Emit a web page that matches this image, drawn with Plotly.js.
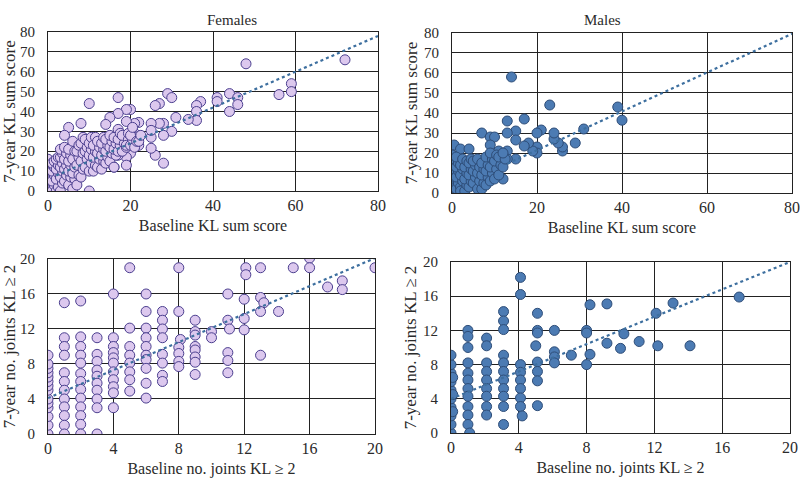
<!DOCTYPE html>
<html>
<head>
<meta charset="utf-8">
<script src="https://cdn.plot.ly/plotly-3.0.1.min.js"></script>
<style>html,body{margin:0;padding:0;background:#fff}#chart{width:800px;height:478px}</style>
</head>
<body>
<div id="chart"></div>
<script>
// ---- Females: KL sum score ----
const femSumX = [48,72,59,59,56,44,46,46,44,41,41,37,36,36,36,34,31,29,30,27,26,28,27,30,28,28,26,25,25,25,25,17,20,19,17,15,14,10,8,5,4,22,21,19,21,22,22,20,20,19,19,16,10,17,17,
 0,0,0,0,0,0,0,0,0,0,0,0,0,
 1,1.5,1,1.5,1,1.5,1,1.5,
 2,2.5,2,2.5,2,2.5,2,2.5,
 3,3.5,3,3.5,3,3.5,3,3.5,3,
 4,4.5,4,4.5,4,4.5,4,
 5,5.5,5,5.5,5,5.5,5,
 6,6.5,6,6.5,6,6.5,6,
 7,7.5,7,7.5,7,7.5,
 8,8.5,8,8.5,8,8.5,
 9,9.5,9,9.5,9,
 10,10.5,10,10.5,10,10.5,
 11,11.5,11,11.5,11,11.5,
 12,12.5,12,12.5,12,
 13,13.5,13,13.5,13,13.5,
 14,14.5,14,14.5,14,
 15,15.5,15,15.5,15,
 16,16.5,16,16.5,16,
 17,17.5,17,17.5,
 18,18.5,18,
 19,19.5,19,19.5,
 20,20.5,20,20.5,
 21,21.5,
 22,22.5];
const femSumY = [64,66,54,50,48.5,49,47,43.5,40,47,45,45,43,40,35.5,36,37,49,47,44,43,34,34,30,28,14,18,21.5,27,34,30.5,47,41,41,39,37,33.5,44,34,32,28,34.5,34,35,29,27.5,23,21.5,19,17,13,12,0,31,18,
 0,2,3,5,7,8,10,11,12,13,14,15,16,
 0,3,5,8,10,12,14,15,
 0,2,6,9,11,13,16,17,
 0,4,7,10,12,14,17,19,21,
 5,8,11,13,16,19,22,
 3,7,10,13,15,18,21,
 1,6,9,12,16,20,25,
 3,8,13,17,20,23,
 7,11,15,19,24,27,
 12,16,20,22,26,
 10,14,18,21,24,27,
 10,13,17,20,23,27,
 12,16,19,22,25,
 11,15,18,21,24,27,
 14,17,20,23,26,
 15,19,22,25,28,
 12,18,21,24,27,
 20,23,26,29,
 20,24,28,
 22,26,23,29,
 23,26,28,32,
 22,25,
 25,28];

// ---- Males: KL sum score ----
const malSumX = [14,23,39,40,31,29,26,26,25,24,24,21,20,20,20,19,18,17,17,15,15,15,13,13,13,13,7,9,10,9,0.5,2,4,0,12,11,6.5,2,
 0,0,0,0,0,0,0,0,0,0,0,0,
 1,1.5,1,1.5,1,1.5,1,
 2,2.5,2,2.5,2,2.5,2,
 3,3.5,3,3.5,3,3.5,
 4,4.5,4,4.5,4,4.5,
 5,5.5,5,5.5,5,
 6,6.5,6,6.5,6,
 7,7.5,7,7.5,7,
 8,8.5,8,8.5,8,
 9,9.5,9,9.5,9,
 10,10.5,10,10.5,
 11,11.5,11,
 12,12.5,12];
const malSumY = [58,44,43,36.4,32,25,21,23,25,27,30,31.5,30,23,20,21,25,37,23.5,31,26.5,17,36,30,21,17,30,28,28,24,24,22,22,19,7,21,2,0,
 0,1,3,5,7,8,10,12,14,16,17,19,
 2,5,8,11,13,15,18,
 3,6,9,12,14,17,1,
 1,4,7,10,13,16,
 3,6,9,12,15,17,
 5,8,11,14,16,
 2,6,10,13,17,
 2,5,9,12,15,
 4,8,11,14,18,
 6,10,13,17,20,
 7,12,16,19,
 9,14,18,
 13,17,20];

// ---- Females: number of joints KL >= 2 ----
const femJntX = [20,16,16,15,17.1,18,18,14.1,13,13.2,13,13,12.1,12.1,12,12,12,13,11,11,11.1,11,11,11,10,10,9,9,9,9,9,9,9,9,
 8,8,8.1,8,8,8,8,7,7,7,7,7,7,7,7,
 6,6,6,6,6,6,6,6,6,6,
 5,5,5,5,5,5,5,5,
 4,4,4,4,4,4,4,4,4,4,4,
 3,3,3,3,3,3,3,3,3,3,
 2,2,2,2,2,2,2,2,2,2,2,2,2,
 1,1,1,1,1,1,1,1,1,1,1,1,
 0,0,0,0,0,0,0,0,0,0,0,0,0,0];
const femJntY = [19,20.1,19,19,16.8,17.5,16.5,14,15.6,15,14,9,19,18.2,15.4,13.2,11.9,19,16,13,12,9.3,8.4,7,11.7,11,13,11.7,11.3,10,9.6,8.8,8.2,6.8,
 19,14,10.8,9.9,9.2,8.3,7.7,14,13,12,11,9.1,8.1,6.7,6,
 16,14,12.1,11,10,9,8.5,7.5,5.8,4.1,
 19,12.1,10,9,8.1,7.1,6.2,4.9,
 16,11,10,9.3,8.7,8.1,7.1,6.2,5.4,4.7,3,
 11,9.1,8.3,7.3,6.6,5.8,5,4,3,0,
 15.2,11.1,10,9,8.1,6.9,6,5.1,4.1,3.1,2.1,1.1,0,
 15,11,10,9,7,6,5,4,3.1,2.1,1,0,
 0,1,2,3,3.5,4,5,5.5,6,6.5,7,7.5,8,9];

// ---- Males: number of joints KL >= 2 ----
const malJntX = [17,13.1,12.1,12.2,14.1,11.1,10.2,10,9.2,9.2,8.2,8,8,8.2,8,7.1,6.1,6.1,6.1,6.1,
 5.1,5.1,5.1,5,5.1,5.1,5.1,5.1,
 4.1,4.1,4.1,4.1,4.1,4.1,4.1,4.1,4.2,
 3.1,3.1,3.1,3.1,3.1,3.1,3.1,3.1,3.1,3.1,3.1,
 2.1,2.1,2.1,2.1,2.1,2.1,2.1,2.1,2.1,
 1,1,1,1,1,1,1,1,1,1,1,1.1,
 0,0,0,0,0,0,0,0,0,0,0.1,0.1,0.1];
const malJntY = [15.9,15.2,14,10.2,10.2,10.7,11.6,9.9,15.1,10.5,15,12,11.7,9.2,8,9.1,12,9.5,8.9,8.2,
 14,12,11.7,10.2,8.3,7.2,6.1,3.2,
 18.2,16.2,8,7.1,6.2,5.2,4.1,3.1,2,
 14.2,13.1,12.1,9.1,8.2,7.2,6.2,5.2,4.3,3.1,1,
 11.1,10.2,8.2,7.2,6.2,5.2,4.3,3.1,2.1,
 12,11.3,10,8.2,7,6.2,5.2,4.3,3.1,2.1,1,0,
 0,1,2,3,4,5,6,7,8,9.1,2.5,4.5,6.5];

// ---- Linear trend lines (endpoints) ----
const fitFemSumX = [2, 80], fitFemSumY = [7.8, 78];
const fitMalSumX = [13, 80], fitMalSumY = [14.6, 79.6];
const fitFemJntX = [0, 20], fitFemJntY = [4.1, 20.1];
const fitMalJntX = [0, 20], fitMalJntY = [4.0, 20.0];

const femMarker = {size: 10, color: '#dcc8ee', line: {color: '#4b3f8f', width: 1}};
const malMarker = {size: 10, color: '#4c7bb3', line: {color: '#2e4d78', width: 1}};
const fitLine = {color: '#3d6f9f', width: 2.2, dash: 'dot'};

const traces = [
  {x: femSumX, y: femSumY, type: 'scatter', mode: 'markers', marker: femMarker, xaxis: 'x', yaxis: 'y'},
  {x: fitFemSumX, y: fitFemSumY, type: 'scatter', mode: 'lines', line: fitLine, xaxis: 'x', yaxis: 'y'},
  {x: malSumX, y: malSumY, type: 'scatter', mode: 'markers', marker: malMarker, xaxis: 'x2', yaxis: 'y2'},
  {x: fitMalSumX, y: fitMalSumY, type: 'scatter', mode: 'lines', line: fitLine, xaxis: 'x2', yaxis: 'y2'},
  {x: femJntX, y: femJntY, type: 'scatter', mode: 'markers', marker: femMarker, xaxis: 'x3', yaxis: 'y3'},
  {x: fitFemJntX, y: fitFemJntY, type: 'scatter', mode: 'lines', line: fitLine, xaxis: 'x3', yaxis: 'y3'},
  {x: malJntX, y: malJntY, type: 'scatter', mode: 'markers', marker: malMarker, xaxis: 'x4', yaxis: 'y4'},
  {x: fitMalJntX, y: fitMalJntY, type: 'scatter', mode: 'lines', line: fitLine, xaxis: 'x4', yaxis: 'y4'}
];

const fam = '"Liberation Serif", "Times New Roman", serif';
const txt = '#2a2a2a';
function xax(dom, range, dtick, title, anchor) {
  return {
    domain: dom, range: range, dtick: dtick, tick0: 0, anchor: anchor,
    showgrid: true, gridcolor: '#222', gridwidth: 1,
    showline: true, linecolor: '#222', linewidth: 1, mirror: true,
    zeroline: false, ticks: '', tickfont: {family: fam, size: 16, color: txt},
    ticklabelstandoff: 0, ticklabeloverflow: 'allow',
    title: {text: title, font: {family: fam, size: 16, color: txt}, standoff: 6},
    fixedrange: true
  };
}
function yax(dom, range, dtick, title, anchor) {
  return {
    domain: dom, range: range, dtick: dtick, tick0: 0, anchor: anchor,
    showgrid: true, gridcolor: '#222', gridwidth: 1,
    showline: true, linecolor: '#222', linewidth: 1, mirror: true,
    zeroline: false, ticks: '', tickfont: {family: fam, size: 15, color: txt},
    ticklabelstandoff: 9, ticklabeloverflow: 'allow',
    title: {text: title, font: {family: fam, size: 17, color: txt}, standoff: 2},
    fixedrange: true
  };
}

const layout = {
  width: 800, height: 478,
  margin: {l: 0, r: 0, t: 0, b: 0},
  paper_bgcolor: '#fff', plot_bgcolor: '#fff',
  showlegend: false, font: {family: fam, size: 15, color: txt},
  xaxis: xax([0.06, 0.4725], [0, 80], 20, 'Baseline KL sum score', 'y'),
  yaxis: yax([0.6004, 0.9331], [0, 80], 10, '7-year KL sum score', 'x'),
  xaxis2: xax([0.565, 0.99], [0, 80], 20, 'Baseline KL sum score', 'y2'),
  yaxis2: yax([0.5962, 0.931], [0, 80], 10, '7-year KL sum score', 'x2'),
  xaxis3: xax([0.06, 0.46875], [0, 20], 4, 'Baseline no. joints KL ≥ 2', 'y3'),
  yaxis3: yax([0.0921, 0.4582], [0, 20], 4, '7-year no. joints KL ≥ 2', 'x3'),
  xaxis4: xax([0.56375, 0.9875], [0, 20], 4, 'Baseline no. joints KL ≥ 2', 'y4'),
  yaxis4: yax([0.0941, 0.4519], [0, 20], 4, '7-year no. joints KL ≥ 2', 'x4'),
  annotations: [
    {text: 'Females', x: 0.256, y: 0.979, xref: 'paper', yref: 'paper', showarrow: false, font: {family: fam, size: 15, color: txt}},
    {text: 'Males', x: 0.779, y: 0.979, xref: 'paper', yref: 'paper', showarrow: false, font: {family: fam, size: 15, color: txt}}
  ]
};

Plotly.newPlot('chart', traces, layout, {displayModeBar: false, staticPlot: true});
</script>
</body>
</html>
